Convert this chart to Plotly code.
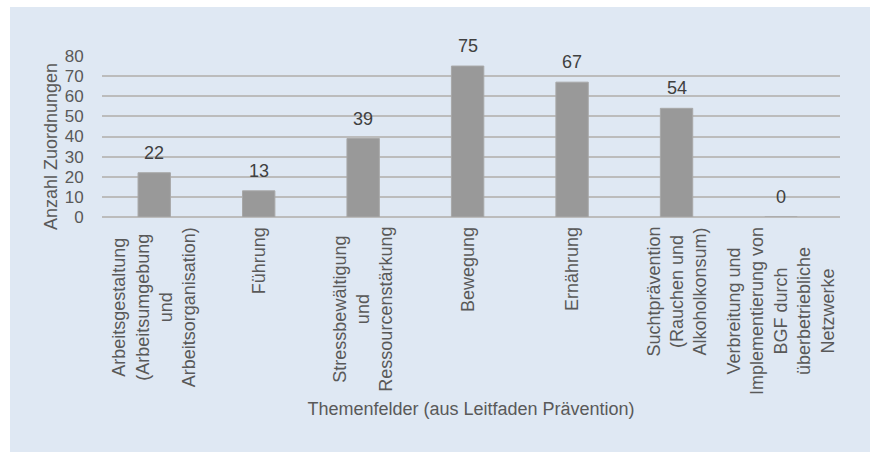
import plotly.graph_objects as go

categories = [
    "Arbeitsgestaltung<br>(Arbeitsumgebung<br>und<br>Arbeitsorganisation)",
    "Führung",
    "Stressbewältigung<br>und<br>Ressourcenstärkung",
    "Bewegung",
    "Ernährung",
    "Suchtprävention<br>(Rauchen und<br>Alkoholkonsum)",
    "Verbreitung und<br>Implementierung von<br>BGF durch<br>überbetriebliche<br>Netzwerke",
]
values = [22, 13, 39, 75, 67, 54, 0]
y_ticks = [0, 10, 20, 30, 40, 50, 60, 70, 80]
x_title = "Themenfelder (aus Leitfaden Prävention)"
y_title = "Anzahl Zuordnungen"

W, H = 870, 452
L, R, T, B = 102, 30, 56, 235
pw, ph = W - L - R, H - T - B

FONT = "Arial, Liberation Sans, sans-serif"
GREY = "#595959"
FS = 18

fig = go.Figure()
fig.add_trace(go.Bar(
    x=categories, y=values,
    marker=dict(color="#999999", line=dict(color="#a8a8a8", width=1)),
    hoverinfo="skip",
))


def px_x(p):
    return (p - L) / pw


def px_y(p):
    return 1 - (p - T) / ph


# data labels
for c, v in zip(categories, values):
    fig.add_annotation(x=c, y=v, xref="x", yref="y", text=str(v),
                       showarrow=False, yanchor="bottom", yshift=8,
                       font=dict(family=FONT, size=FS, color="#404040"))

# category labels (rotated, lines centred)
for c in categories:
    fig.add_annotation(x=c, xref="x", y=px_y(225), yref="paper",
                       text=c, textangle=-90, align="center",
                       showarrow=False, xanchor="center", yanchor="top",
                       font=dict(family=FONT, size=FS, color=GREY))

# y-axis title
fig.add_annotation(x=px_x(50.5), xref="paper", y=px_y(146.5), yref="paper",
                   text=y_title, textangle=-90, showarrow=False,
                   xanchor="center", yanchor="middle",
                   font=dict(family=FONT, size=FS, color=GREY))

# light blue chart background
fig.add_shape(type="rect", xref="paper", yref="paper", layer="below",
              x0=px_x(10), x1=px_x(W + 5), y0=px_y(H + 5), y1=px_y(7),
              fillcolor="#dfe8f3", line=dict(width=0))

fig.update_layout(
    width=W, height=H,
    margin=dict(l=L, r=R, t=T, b=B, autoexpand=False),
    paper_bgcolor="white",
    plot_bgcolor="rgba(0,0,0,0)",
    bargap=0.69,
    showlegend=False,
    font=dict(family=FONT, size=FS, color=GREY),
    xaxis=dict(
        showticklabels=False, ticks="",
        showline=False, showgrid=False, automargin=False,
        title=dict(text=x_title,
                   font=dict(family=FONT, size=FS, color=GREY), standoff=185),
    ),
    yaxis=dict(
        range=[0, 80], tickvals=y_ticks,
        ticks="outside", ticklen=14, tickcolor="rgba(0,0,0,0)",
        tickfont=dict(family=FONT, size=17, color=GREY),
        showgrid=True, gridcolor="#bcbcbc", gridwidth=1.5,
        zeroline=True, zerolinecolor="#bcbcbc", zerolinewidth=1.5,
        automargin=False,
    ),
)

fig.write_html("out.html")
